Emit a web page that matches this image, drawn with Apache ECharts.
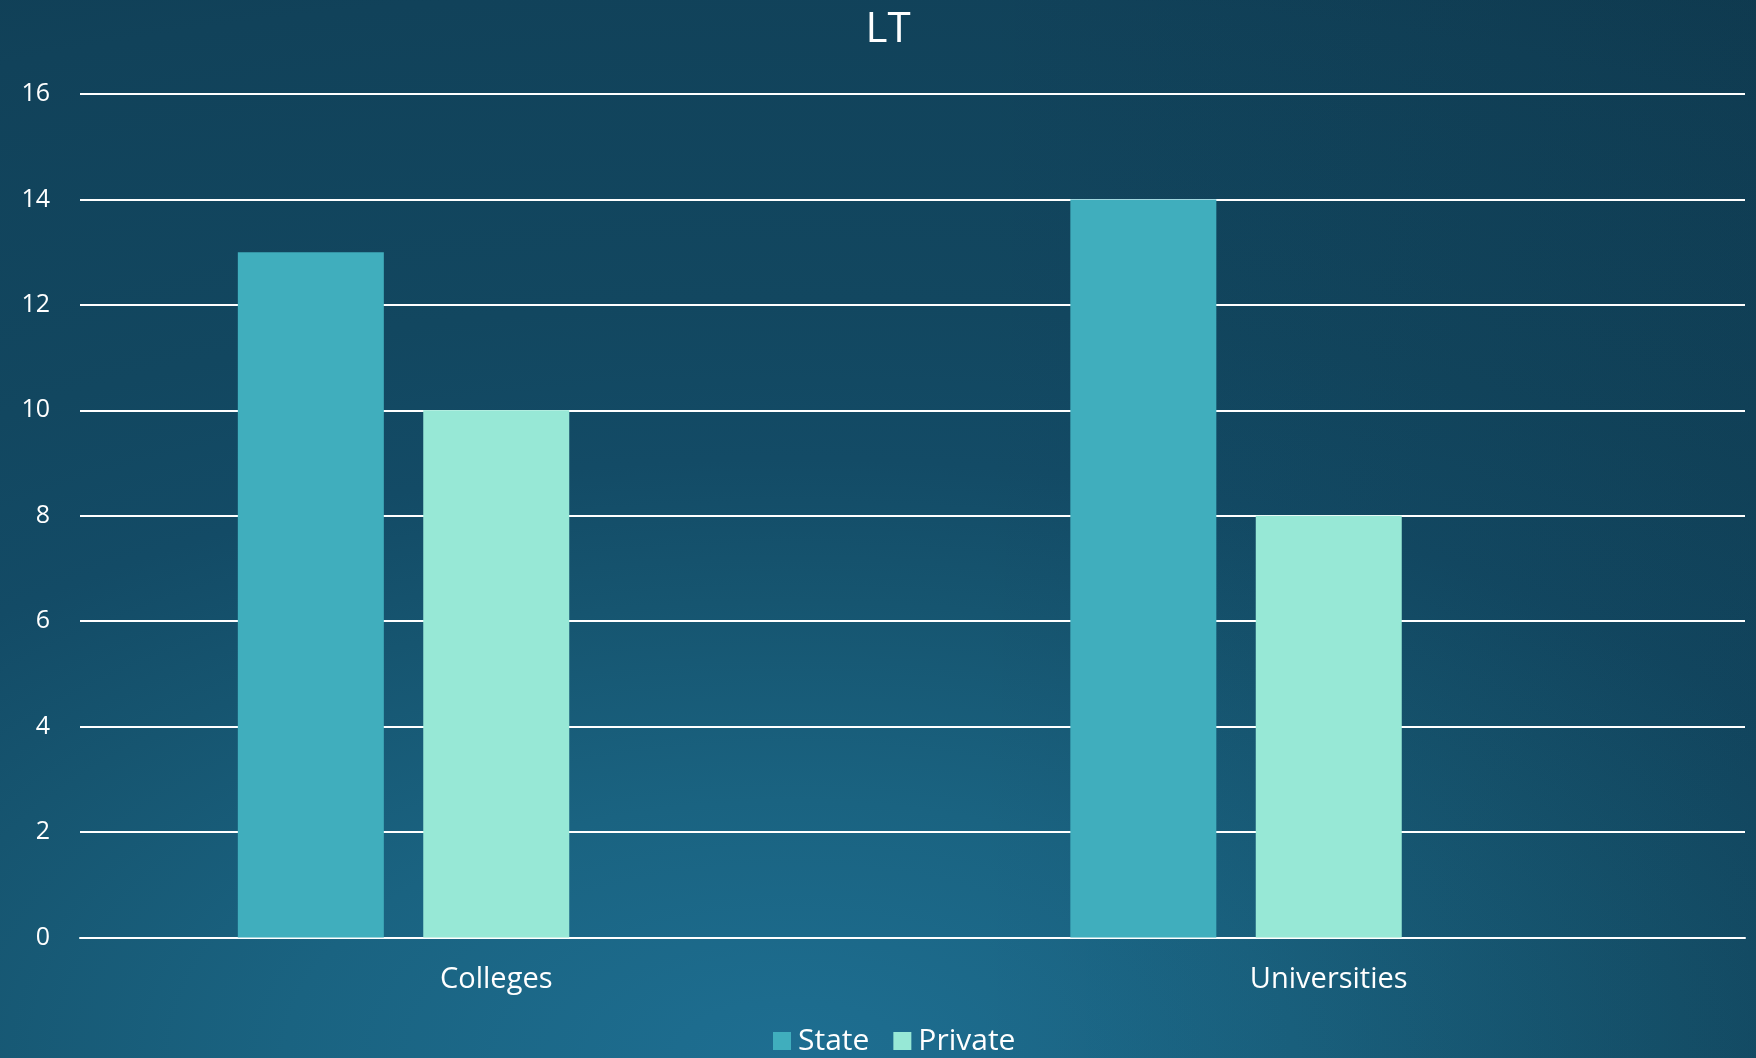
<!DOCTYPE html>
<html>
<head>
<meta charset="utf-8">
<script src="https://cdn.jsdelivr.net/npm/echarts@6/dist/echarts.min.js"></script>
<style>
html,body{margin:0;padding:0;width:1756px;height:1058px;overflow:hidden;}
#chart{width:1756px;height:1058px;
  background:
    linear-gradient(to right, rgba(0,0,0,0) 55%, rgba(5,20,30,0.12) 100%),
    radial-gradient(ellipse 2800px 1428px at 45% 100%, #1e6e91 0%, #1d6c8e 4%, #1a6381 18%, #165570 32%, #134b66 42%, #124760 53%, #11425a 75%, #0e384c 100%);
}
</style>
</head>
<body>
<div id="chart"></div>
<script>
const titleText = 'LT';
const categories = ['Colleges', 'Universities'];
const seriesNames = ['State', 'Private'];
const stateValues = [13, 14];
const privateValues = [10, 8];
const spacerValues = [null, null];
const yMin = 0, yMax = 16, yInterval = 2;

const FONT = '"Open Sans", "Noto Sans", sans-serif';
const chart = echarts.init(document.getElementById('chart'));
chart.setOption({
  animation: false,
  backgroundColor: 'transparent',
  title: {
    text: titleText, left: 883, top: 4, textAlign: 'center',
    textStyle: {color: '#ffffff', fontFamily: FONT, fontSize: 42, fontWeight: 'normal'}
  },
  legend: {
    data: seriesNames, left: 773, top: 1026, padding: 0,
    itemWidth: 18, itemHeight: 18, itemGap: 24,
    icon: 'rect',
    textStyle: {color: '#ffffff', fontFamily: FONT, fontSize: 30, padding: [0, 0, 0, 2]}
  },
  grid: {left: 80, right: 11, top: 94, bottom: 120.5, containLabel: false},
  xAxis: {
    type: 'category', data: categories,
    axisLine: {lineStyle: {color: '#ffffff', width: 2}},
    axisTick: {show: false},
    axisLabel: {color: '#ffffff', fontFamily: FONT, fontSize: 29, margin: 28}
  },
  yAxis: {
    type: 'value', min: yMin, max: yMax, interval: yInterval,
    axisLine: {show: false}, axisTick: {show: false},
    axisLabel: {color: '#ffffff', fontFamily: FONT, fontSize: 25, margin: 30},
    splitLine: {lineStyle: {color: '#ffffff', width: 2}}
  },
  series: [
    {name: seriesNames[0], type: 'bar', data: stateValues, barWidth: 146, barGap: '27%',
     itemStyle: {color: '#40aebd'}},
    {name: seriesNames[1], type: 'bar', data: privateValues, barWidth: 146, barGap: '27%',
     itemStyle: {color: '#97e8d6'}},
    {name: 'spacer', type: 'bar', data: spacerValues, barWidth: 146, barGap: '27%',
     itemStyle: {color: 'transparent'}}
  ]
});
</script>
</body>
</html>
